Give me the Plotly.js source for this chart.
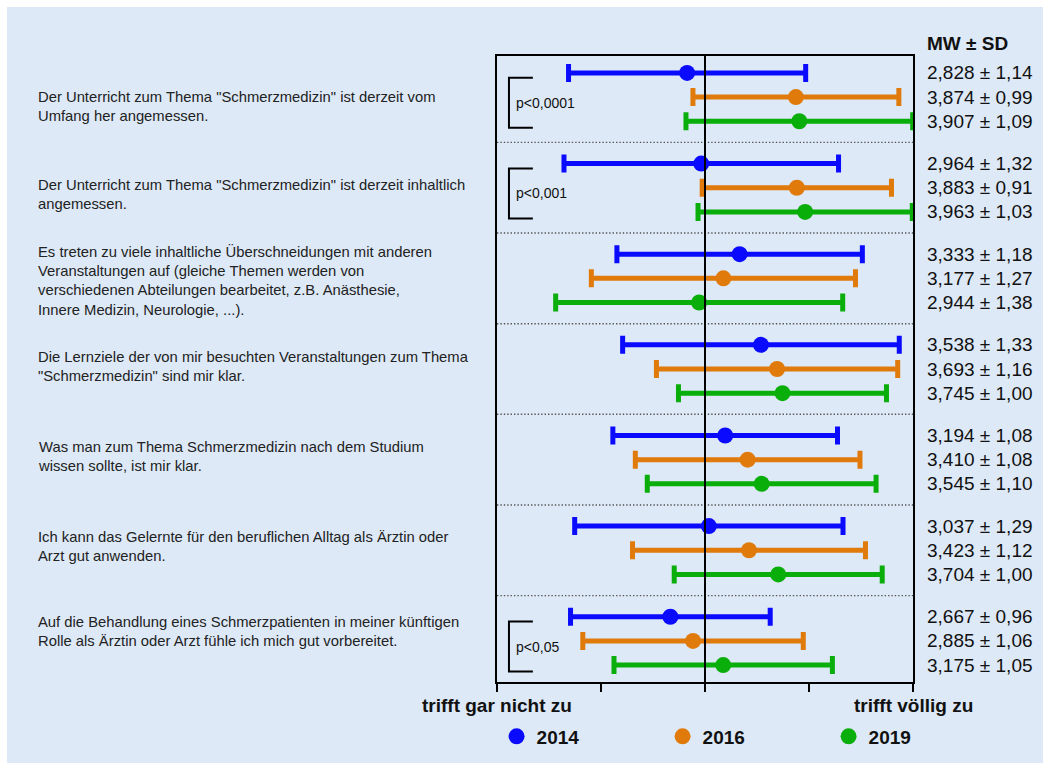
<!DOCTYPE html>
<html>
<head>
<meta charset="utf-8">
<script src="https://cdn.plot.ly/plotly-3.0.1.min.js"></script>
<style>
  html, body { margin: 0; padding: 0; background: #ffffff; }
  #chart { position: absolute; left: 7px; top: 7px; width: 1036px; height: 756px; }
</style>
</head>
<body>
<div id="chart"></div>
<script>
// ---------------- data ----------------
const questions = [
  'Der Unterricht zum Thema "Schmerzmedizin" ist derzeit vom<br>Umfang her angemessen.',
  'Der Unterricht zum Thema "Schmerzmedizin" ist derzeit inhaltlich<br>angemessen.',
  'Es treten zu viele inhaltliche Überschneidungen mit anderen<br>Veranstaltungen auf (gleiche Themen werden von<br>verschiedenen Abteilungen bearbeitet, z.B. Anästhesie,<br>Innere Medizin, Neurologie, ...).',
  'Die Lernziele der von mir besuchten Veranstaltungen zum Thema<br>"Schmerzmedizin" sind mir klar.',
  'Was man zum Thema Schmerzmedizin nach dem Studium<br>wissen sollte, ist mir klar.',
  'Ich kann das Gelernte für den beruflichen Alltag als Ärztin oder<br>Arzt gut anwenden.',
  'Auf die Behandlung eines Schmerzpatienten in meiner künftigen<br>Rolle als Ärztin oder Arzt fühle ich mich gut vorbereitet.'
];
const years = ['2014', '2016', '2019'];
const mean2014 = [2.828, 2.964, 3.333, 3.538, 3.194, 3.037, 2.667];
const sd2014   = [1.14, 1.32, 1.18, 1.33, 1.08, 1.29, 0.96];
const mean2016 = [3.874, 3.883, 3.177, 3.693, 3.410, 3.423, 2.885];
const sd2016   = [0.99, 0.91, 1.27, 1.16, 1.08, 1.12, 1.06];
const mean2019 = [3.907, 3.963, 2.944, 3.745, 3.545, 3.704, 3.175];
const sd2019   = [1.09, 1.03, 1.38, 1.00, 1.10, 1.00, 1.05];
const pGroups  = [0, 1, 6];
const pTexts   = ['p<0,0001', 'p<0,001', 'p<0,05'];
const scaleTicks = [1, 2, 3, 4, 5];
const scaleLeftLabel = 'trifft gar nicht zu';
const scaleRightLabel = 'trifft völlig zu';
const statsHeader = 'MW ± SD';

// ---------------- layout helpers ----------------
const FONT = '"Liberation Sans", Arial, Helvetica, sans-serif';
const colors = ['#0a0aff', '#e07a0a', '#0aae0a'];
const means = [mean2014, mean2016, mean2019];
const sds = [sd2014, sd2016, sd2019];
const GROUP_STEP = 3.75;
const rowPos = (g, r) => g * GROUP_STEP + r;
const nG = questions.length;
const labelOffsets = [1.37, 1.30, 1.10, 0.91, 0.85, 0.86, 0.59];
const fmt = (v, d) => v.toFixed(d).replace('.', ',');

const traces = years.map((yr, k) => ({
  type: 'scatter',
  mode: 'markers',
  name: yr,
  x: means[k],
  y: means[k].map((_, g) => rowPos(g, k)),
  marker: { color: colors[k], size: 16, symbol: 'circle', line: { width: 0 } },
  error_x: { type: 'data', array: sds[k], visible: true, color: colors[k], thickness: 5, width: 9 },
  cliponaxis: false,
  hoverinfo: 'x+y'
}));

const shapes = [];
const annotations = [];

// center line
shapes.push({ type: 'line', xref: 'x', yref: 'paper', x0: 3, x1: 3, y0: 0, y1: 1,
  line: { color: '#000', width: 2 }, layer: 'above' });

// dotted separators
for (let g = 0; g < nG - 1; g++) {
  const ys = rowPos(g, 2) + (GROUP_STEP - 2) / 2;
  shapes.push({ type: 'line', xref: 'paper', yref: 'y', x0: 0, x1: 1, y0: ys, y1: ys,
    line: { color: '#555', width: 1.4, dash: '1.4px,2px' }, layer: 'below' });
}

// brackets and p-values
pGroups.forEach((g, i) => {
  const xa = 1.115, xb = 1.345;
  const y0 = rowPos(g, 0) + 0.2, y1 = rowPos(g, 2) + 0.27;
  shapes.push({ type: 'path', xref: 'x', yref: 'y',
    path: `M ${xb},${y0} L ${xa},${y0} L ${xa},${y1} L ${xb},${y1}`,
    line: { color: '#000', width: 2 } });
  annotations.push({ xref: 'x', yref: 'y', x: 1.16, y: (y0 + y1) / 2, xanchor: 'left', yanchor: 'middle',
    text: pTexts[i], showarrow: false, font: { family: FONT, size: 14, color: '#111' } });
});

// question labels
questions.forEach((q, g) => {
  annotations.push({ xref: 'paper', yref: 'y', x: -1.108, y: rowPos(g, 0) + labelOffsets[g],
    xanchor: 'left', yanchor: 'middle', align: 'left', text: q, showarrow: false,
    font: { family: FONT, size: 14.8, color: '#222' } });
});

// stats text
years.forEach((yr, k) => {
  means[k].forEach((m, g) => {
    annotations.push({ xref: 'paper', yref: 'y', x: 1, xshift: 12, y: rowPos(g, k),
      xanchor: 'left', yanchor: 'middle', showarrow: false,
      text: fmt(m, 3) + ' ± ' + fmt(sds[k][g], 2),
      font: { family: FONT, size: 19, color: '#111' } });
  });
});
annotations.push({ xref: 'paper', yref: 'paper', x: 1, xshift: 12, y: 1.02, xanchor: 'left', yanchor: 'middle',
  showarrow: false, text: '<b>' + statsHeader + '</b>', font: { family: FONT, size: 19, color: '#111' } });

// scale end labels
annotations.push({ xref: 'x', yref: 'paper', x: scaleTicks[0], y: -0.038, xanchor: 'center', yanchor: 'middle',
  showarrow: false, text: '<b>' + scaleLeftLabel + '</b>', font: { family: FONT, size: 19, color: '#111' } });
annotations.push({ xref: 'x', yref: 'paper', x: scaleTicks[scaleTicks.length - 1], y: -0.038, xanchor: 'center', yanchor: 'middle',
  showarrow: false, text: '<b>' + scaleRightLabel + '</b>', font: { family: FONT, size: 19, color: '#111' } });

const layout = {
  width: 1036, height: 756,
  margin: { l: 490, r: 130, t: 49, b: 81, autoexpand: false },
  paper_bgcolor: '#dde9f7',
  plot_bgcolor: 'rgba(0,0,0,0)',
  font: { family: FONT, color: '#111' },
  showlegend: true,
  legend: {
    orientation: 'h', x: -0.001, xanchor: 'left', y: -0.087, yanchor: 'middle',
    font: { family: FONT, size: 19, color: '#111', weight: 'bold' },
    entrywidth: 121, entrywidthmode: 'pixels', bgcolor: 'rgba(0,0,0,0)', itemclick: false
  },
  xaxis: {
    range: [1, 5], tickvals: scaleTicks, showticklabels: false, ticks: 'outside', ticklen: 8, tickwidth: 2,
    tickcolor: '#000', showline: true, linecolor: '#000', linewidth: 2, mirror: true,
    showgrid: false, zeroline: false, fixedrange: true
  },
  yaxis: {
    range: [rowPos(nG - 1, 2) + 0.7, -0.7], showticklabels: false, ticks: '', showline: true,
    linecolor: '#000', linewidth: 2, mirror: true, showgrid: false, zeroline: false, fixedrange: true
  },
  shapes: shapes,
  annotations: annotations
};

Plotly.newPlot('chart', traces, layout, { displayModeBar: false, staticPlot: true });
</script>
</body>
</html>
